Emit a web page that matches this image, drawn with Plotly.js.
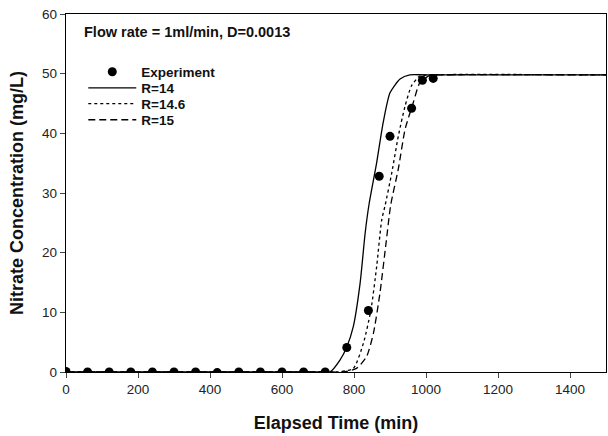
<!DOCTYPE html>
<html><head><meta charset="utf-8">
<script src="https://cdn.plot.ly/plotly-3.0.1.min.js"></script>
<style>html,body{margin:0;padding:0;background:#fff}#chart{width:608px;height:436px}</style>
</head><body><div id="chart"></div>
<script>
// Experiment data
var expTime = [0,60,120,180,240,300,360,420,480,540,600,660,720,780,840,870,900,960,990,1020];
var expConc = [0.1,0,0,0,0,0,0,-0.1,0,0,0,0,0,4.1,10.3,32.8,39.5,44.2,48.9,49.2];
// Model curves
var r14Time = [0,700,733,761,780,798,817,831,842,863,881,900,928,955,1000,1500];
var r14Conc = [0,0,0,2,4.2,7.6,14.9,23.3,28.2,35.1,41.8,46.8,49.1,49.8,49.8,49.8];
var r146Time = [0,720,752,798,826,847,863,877,886,905,923,942,960,983,1011,1500];
var r146Conc = [0,0,0,0.6,4.8,10.4,17.7,25.5,27.8,33.4,39.5,44.6,48,49.6,49.8,49.8];
var r15Time = [0,740,770,807,835,854,872,889,902,923,942,965,983,1011,1040,1500];
var r15Conc = [0,0,0,0.6,2.6,6.5,13.2,21.6,28,34,40.7,45.2,48.5,49.7,49.8,49.8];
var seriesNames = ['Experiment','R=14','R=14.6','R=15'];
var xTicks = [0,200,400,600,800,1000,1200,1400];
var yTicks = [0,10,20,30,40,50,60];

var lineStyle = {color: '#000', width: 1.3, shape: 'spline', smoothing: 0.6};
var traces = [
  {x: expTime, y: expConc, name: seriesNames[0], mode: 'markers', type: 'scatter', legend: 'legend',
   marker: {color: '#000', size: 9}},
  {x: r14Time, y: r14Conc, name: seriesNames[1], mode: 'lines', type: 'scatter', legend: 'legend2',
   line: Object.assign({}, lineStyle)},
  {x: r146Time, y: r146Conc, name: seriesNames[2], mode: 'lines', type: 'scatter', legend: 'legend3',
   line: Object.assign({}, lineStyle, {dash: 'dot'})},
  {x: r15Time, y: r15Conc, name: seriesNames[3], mode: 'lines', type: 'scatter', legend: 'legend4',
   line: Object.assign({}, lineStyle, {dash: '7px,4px'})}
];

function leg(y) {
  return {x: 0.032, y: y, xanchor: 'left', yanchor: 'middle', bgcolor: 'rgba(0,0,0,0)',
          font: {family: 'Liberation Sans, Arial, sans-serif', size: 13.5, color: '#111', weight: 'bold'},
          itemwidth: 48};
}

var layout = {
  width: 608, height: 436,
  margin: {l: 66, r: 2, t: 14, b: 64},
  paper_bgcolor: '#fff', plot_bgcolor: '#fff',
  font: {family: 'Liberation Sans, Arial, sans-serif', color: '#111', size: 12},
  showlegend: true,
  legend: leg(0.838), legend2: leg(0.793), legend3: leg(0.749), legend4: leg(0.704),
  xaxis: {range: [0, 1500], tickvals: xTicks, ticktext: xTicks.map(String), ticks: 'outside', ticklen: 5,
          showline: true, linecolor: '#000', linewidth: 1.2, mirror: true, showgrid: false, zeroline: false,
          tickfont: {size: 13.5, color: '#222'},
          title: {text: 'Elapsed Time (min)', font: {size: 18, weight: 'bold', color: '#111'}, standoff: 20}},
  yaxis: {range: [0, 60], tickvals: yTicks, ticktext: yTicks.map(String), ticks: 'outside', ticklen: 5,
          showline: true, linecolor: '#000', linewidth: 1.2, mirror: true, showgrid: false, zeroline: false,
          tickfont: {size: 13.5, color: '#222'},
          title: {text: 'Nitrate Concentration (mg/L)', font: {size: 18, weight: 'bold', color: '#111'}, standoff: 13}},
  annotations: [{xref: 'paper', yref: 'paper', x: 0.03, y: 0.95, xanchor: 'left', yanchor: 'middle',
                 text: '<b>Flow rate = 1ml/min, D=0.0013</b>', showarrow: false,
                 font: {size: 14.5, color: '#111'}}]
};
Plotly.newPlot('chart', traces, layout, {displayModeBar: false, staticPlot: true});
</script></body></html>
